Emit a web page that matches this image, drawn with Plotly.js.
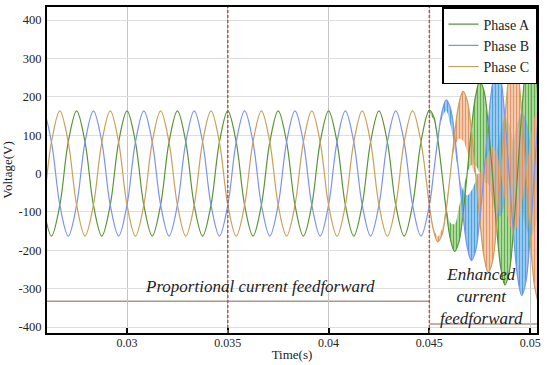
<!DOCTYPE html>
<html><head><meta charset="utf-8">
<script src="https://cdn.plot.ly/plotly-3.0.1.min.js"></script>
<style>html,body{margin:0;padding:0;background:#fff}#chart{width:550px;height:365px}</style>
</head><body><div id="chart"></div>
<script>
// Stable region (proportional current feedforward), sampled every 1/6 period
const tStable = [0.025,0.025417,0.025833,0.02625,0.026667,0.027083,0.0275,0.027917,0.028333,0.02875,0.029167,0.029583,
  0.03,0.030417,0.030833,0.03125,0.031667,0.032083,0.0325,0.032917,0.033333,0.03375,0.034167,0.034583,
  0.035,0.035417,0.035833,0.03625,0.036667,0.037083,0.0375,0.037917,0.038333,0.03875,0.039167,0.039583,
  0.04,0.040417,0.040833,0.04125,0.041667,0.042083,0.0425,0.042917,0.043333,0.04375,0.044167,0.044583];
const phaseAStable = [163,82,-82,-163,-82,82, 163,82,-82,-163,-82,82, 163,82,-82,-163,-82,82, 163,82,-82,-163,-82,82,
  163,82,-82,-163,-82,82, 163,82,-82,-163,-82,82, 163,82,-82,-163,-82,82, 163,82,-82,-163,-82,82];
const phaseBStable = [-82,82,163,82,-82,-163, -82,82,163,82,-82,-163, -82,82,163,82,-82,-163, -82,82,163,82,-82,-163,
  -82,82,163,82,-82,-163, -82,82,163,82,-82,-163, -82,82,163,82,-82,-163, -82,82,163,82,-82,-163];
const phaseCStable = [-82,-163,-82,82,163,82, -82,-163,-82,82,163,82, -82,-163,-82,82,163,82, -82,-163,-82,82,163,82,
  -82,-163,-82,82,163,82, -82,-163,-82,82,163,82, -82,-163,-82,82,163,82, -82,-163,-82,82,163,82];

// Enhanced region (growing oscillation with switching ripple), sampled every 1/12 period
const tEnhanced = [0.045,0.045208,0.045417,0.045625,0.045833,0.046042,0.04625,0.046458,0.046667,0.046875,0.047083,0.047292,
  0.0475,0.047708,0.047917,0.048125,0.048333,0.048542,0.04875,0.048958,0.049167,0.049375,0.049583,0.049792,0.05,0.050208,0.050417];
const phaseAEnhUpper = [165,149,89,0,-96,-171,-203,-180,-107,0,114,202,240,216,129,0,-138,-245,-290,-258,-153,0,159,281,330,290,170];
const phaseAEnhLower = [157,141,82,0,-82,-128,-132,-90,-43,0,23,20,0,-22,-26,0,55,110,145,129,77,0,-80,-141,-165,-145,-85];
const phaseBEnhUpper = [-83,0,89,160,192,171,102,0,-107,-191,-227,-202,-120,0,129,231,276,245,145,0,-153,-269,-318,-281,-165,0,170];
const phaseBEnhLower = [-78,0,82,144,163,128,66,0,-43,-57,-45,-20,0,0,-26,-69,-110,-110,-73,0,77,135,159,141,83,0,-85];
const phaseCEnhUpper = [-83,-149,-178,-160,-96,0,102,180,214,191,114,0,-120,-216,-258,-231,-138,0,145,258,305,269,159,0,-165,-290,-340];
const phaseCEnhLower = [-78,-141,-164,-144,-82,0,66,90,86,57,23,0,0,22,52,69,55,0,-73,-129,-153,-135,-80,0,83,145,170];

const seriesNames = ['Phase A','Phase B','Phase C'];
const xTickVals = [0.03,0.035,0.04,0.045,0.05];
const xTickText = ['0.03','0.035','0.04','0.045','0.05'];
const yTickVals = [-400,-300,-200,-100,0,100,200,300,400];
const yTickText = ['-400','-300','-200','-100','0','100','200','300','400'];
const switchTimes = [0.035,0.045];
const refLevelLeft = -333, refLevelRight = -392;

const lineColors = ['#5a9436','#7b93ee','#c9a05a'];
const fgColors = ['rgba(85,170,60,0.9)','rgba(45,165,205,0.85)','rgba(230,140,90,0.9)'];
const bgColors = ['rgba(140,205,120,0.6)','rgba(125,165,240,0.6)','rgba(240,185,145,0.6)'];

const stable = [phaseAStable, phaseBStable, phaseCStable];
const upper = [phaseAEnhUpper, phaseBEnhUpper, phaseCEnhUpper];
const lower = [phaseAEnhLower, phaseBEnhLower, phaseCEnhLower];

const traces = [];
for (let i = 0; i < 3; i++) {
  traces.push({
    x: tEnhanced.concat(tEnhanced.slice().reverse()),
    y: upper[i].concat(lower[i].slice().reverse()),
    type: 'scatter', mode: 'lines', fill: 'toself', fillcolor: bgColors[i],
    fillpattern: {shape: '|', size: 3, solidity: 0.45, fgcolor: fgColors[i], bgcolor: bgColors[i]},
    line: {width: 0, shape: 'spline', color: fgColors[i]},
    showlegend: false, hoverinfo: 'skip'
  });
}
for (let i = 0; i < 3; i++) {
  traces.push({
    x: tStable.concat(tEnhanced), y: stable[i].concat(upper[i]),
    type: 'scatter', mode: 'lines', name: seriesNames[i],
    line: {color: lineColors[i], width: 1.2, shape: 'spline'}
  });
}

const serif = 'Liberation Serif, Times New Roman, serif';
const shapes = switchTimes.map(t => ({
  type: 'line', xref: 'x', yref: 'paper', x0: t, x1: t, y0: 0, y1: 1,
  line: {color: 'rgb(170,95,75)', width: 1.5, dash: '3px,2px'}
}));
shapes.push({type: 'line', xref: 'paper', yref: 'y', x0: 0, x1: (0.045-0.02603)/(0.05034-0.02603), y0: refLevelLeft, y1: refLevelLeft,
  line: {color: 'rgb(175,150,135)', width: 1.5}, layer: 'below'});
shapes.push({type: 'line', xref: 'x', yref: 'y', x0: 0.045, x1: 0.0504, y0: refLevelRight, y1: refLevelRight,
  line: {color: 'rgb(175,150,135)', width: 1.5}, layer: 'below'});

const layout = {
  width: 550, height: 365,
  margin: {l: 47, r: 13, t: 7, b: 32},
  paper_bgcolor: '#fff', plot_bgcolor: '#fff',
  font: {family: serif, size: 12, color: '#222'},
  xaxis: {
    range: [0.02603, 0.05034], tickvals: xTickVals, ticktext: xTickText,
    showgrid: true, gridcolor: '#c4c4c4', gridwidth: 1, zeroline: false,
    showline: true, linecolor: '#000', linewidth: 2, mirror: true,
    ticks: 'inside', ticklen: 5, tickwidth: 2, tickcolor: '#000',
    ticklabelstandoff: -2,
    tickfont: {family: serif, size: 12, color: '#222'},
    title: {text: 'Time(s)', font: {family: serif, size: 13, color: '#222'}, standoff: 0}
  },
  yaxis: {
    range: [-415.6, 433.9], tickvals: yTickVals, ticktext: yTickText,
    showgrid: true, gridcolor: '#dedede', gridwidth: 1, zeroline: false,
    showline: true, linecolor: '#000', linewidth: 2, mirror: true,
    ticks: '', ticklabelstandoff: 1,
    tickfont: {family: serif, size: 12.5, color: '#222'},
    title: {text: 'Voltage(V)', font: {family: serif, size: 13, color: '#222'}, standoff: 6}
  },
  legend: {
    x: 1, xanchor: 'right', y: 1, yanchor: 'top',
    bgcolor: '#fff', bordercolor: '#000', borderwidth: 1.5,
    font: {family: serif, size: 14, color: '#222'}, tracegroupgap: 0
  },
  shapes: shapes,
  annotations: [
    {x: 0.03662, y: -295, xref: 'x', yref: 'y', text: 'Proportional current feedforward', showarrow: false,
     font: {family: serif, size: 17, color: '#222', style: 'italic'}},
    {x: 0.04761, y: -320, xref: 'x', yref: 'y', text: 'Enhanced<br>current<br>feedforward', showarrow: false,
     font: {family: serif, size: 17, color: '#222', style: 'italic'}}
  ]
};

Plotly.newPlot('chart', traces, layout, {displayModeBar: false, staticPlot: true});
</script>
</body></html>
